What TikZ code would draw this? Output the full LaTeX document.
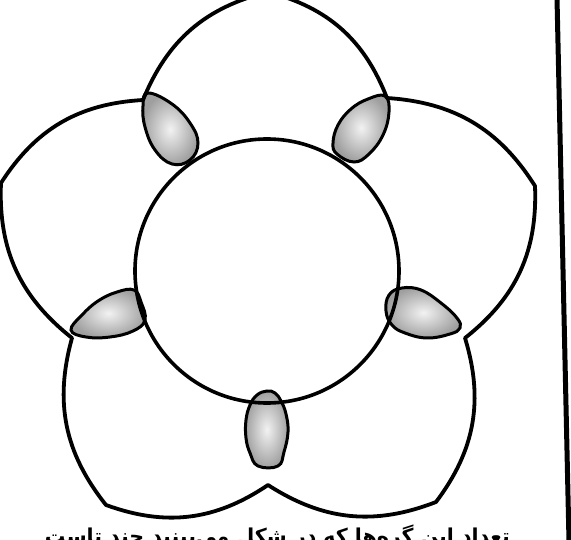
\documentclass[tikz,border=0pt]{standalone}
\usepackage{fontspec}
\newfontfamily\arabicfont[Script=Arabic]{DejaVu Sans}
\TeXXeTstate=1
\begin{document}
\begin{tikzpicture}[x=1pt,y=1pt,
  edge/.style={line width=3.8pt, line join=round, line cap=round},
  lens/.style={line width=3pt, draw=black, inner color=gray!10, outer color=gray!75},
  caption/.style={font=\arabicfont\bfseries\fontsize{20.5}{22}\selectfont, inner sep=0pt}]
\useasboundingbox (0,0) rectangle (571,539);
\clip (0,0) rectangle (571,539);
\fill[white] (0,0) rectangle (571,539);
% concave and convex corners of the outer outline
\coordinate (C1) at (143,439);
\coordinate (VT) at (268,547);
\coordinate (C2) at (387,441);
\coordinate (VUR) at (535,353);
\coordinate (C3) at (465,201);
\coordinate (VLR) at (436,37);
\coordinate (C4) at (268,54);
\coordinate (VLL) at (106,34);
\coordinate (C5) at (72,201);
\coordinate (VUL) at (1,356);
% lenses
\shade[lens] plot[smooth cycle, tension=0.7] coordinates {(148,446) (172,435) (190,416) (198,396) (190,379) (172,375) (155,389) (145,412) (143,433)};
\shade[lens] plot[smooth cycle, tension=0.7] coordinates {(385,443) (389,427) (383,404) (369,385) (354,377) (337,385) (333,396) (338,414) (351,430) (368,440)};
\shade[lens] plot[smooth cycle, tension=0.7] coordinates {(71,209) (82,224) (98,238) (117,247) (134,249) (141,237) (145,219) (133,208) (110,202) (86,202)};
\shade[lens] plot[smooth cycle, tension=0.7] coordinates {(389,244) (402,251) (421,249) (441,236) (457,221) (460,211) (450,205) (427,201) (405,206) (392,214) (386,228)};
\shade[lens] plot[smooth cycle, tension=0.7] coordinates {(267,148) (257,144) (250,134) (246,119) (246,101) (250,86) (258,73) (278,73) (284,87) (288,107) (286,125) (281,138) (275,146)};
% outer outline
\draw[edge] (C1) to[bend left=27] (VT) to[bend left=27] (C2)
  to[bend left=27] (VUR) to[bend left=27] (C3)
  to[bend left=27] (VLR) to[bend left=27] (C4)
  to[bend left=27] (VLL) to[bend left=27] (C5)
  to[bend left=27] (VUL) to[bend left=27] cycle;
% central circle
\node[draw, circle, line width=3.6pt, minimum size=264pt, inner sep=0pt] (center) at (267,268) {};
% frame line at right
\draw[line width=5pt] (557,541) -- (569,-2);
% caption (cut off by the page edge, as in the reference)
\node[caption, anchor=base east] (cap) at (510,-4) {\beginR تعداد این گره‌ها که در شکل می‌بینید چند تاست\endR};
\end{tikzpicture}
\end{document}
